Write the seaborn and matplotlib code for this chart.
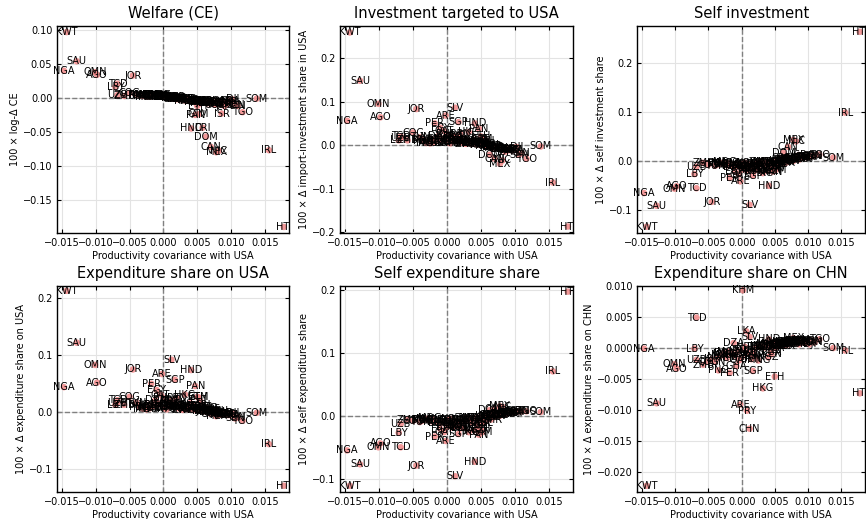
import numpy as np
import pandas as pd
import matplotlib
matplotlib.use("Agg")
import matplotlib.pyplot as plt
from matplotlib.ticker import MultipleLocator
from matplotlib.transforms import Bbox, TransformedBbox
import seaborn as sns

sns.set_style("ticks")
plt.rcParams['font.family'] = ['DejaVu Sans']
plt.rcParams.update({
    "text.color": "black",
    "axes.labelcolor": "black",
    "axes.edgecolor": "black",
    "xtick.color": "black",
    "ytick.color": "black",
})

# country codes and productivity covariance with USA (shared x axis)
countries = [
    "KWT", "NGA", "SAU", "OMN", "AGO", "JOR", "TCD", "LBY", "UZB", "ZMB",
    "COG", "PNG", "MWI", "MDG", "PER", "ARE", "KHM", "LKA", "PRY", "SLV",
    "CHN", "SGP", "GHA", "HKG", "HND", "PAN", "ETH", "CRI", "DOM", "CAN",
    "MEX", "NIC", "ISR", "TGO", "SOM", "IRL", "HTI",
    "TUN", "DZA", "MAR", "BOL", "YEM", "MOZ", "EGY", "IRN", "QAT", "BHR",
    "SDN", "NPL", "GTM", "KEN", "KGZ", "IRQ", "SYR", "LBN", "PAK", "IND",
    "BGD", "IDN", "MYS", "THA", "VNM", "PHL", "KOR", "JPN", "AUS", "NZL",
    "BRA", "ARG", "CHL", "COL", "ECU", "VEN", "URY", "JAM", "TTO", "GBR",
    "FRA", "DJI", "SEN", "GIN", "DEU", "ITA", "ESP", "ZAF", "TUR", "RUS",
    "KAZ", "UGA", "TZA", "CMR", "CIV", "GAB", "ZWE", "BEN", "MNG",
]
cov_usa = [
    -0.0143, -0.0147, -0.0128, -0.0101, -0.0098, -0.0045, -0.0068, -0.0071, -0.0068, -0.0058,
    -0.0050, -0.0035, -0.0030, -0.0025, -0.0018, -0.0002, 0.0002, 0.0007, 0.0008, 0.0012,
    0.0012, 0.0017, -0.0008, 0.0032, 0.0041, 0.0047, 0.0050, 0.0058, 0.0063, 0.0070,
    0.0078, 0.0082, 0.0086, 0.0117, 0.0138, 0.0156, 0.0178,
    -0.0040, -0.0012, -0.0035, -0.0027, -0.0022, -0.0020, -0.0010, -0.0006, -0.0004, 0.0000,
    0.0003, 0.0005, 0.0052, 0.0045, 0.0040, 0.0010, 0.0014, 0.0020, 0.0022, 0.0026,
    0.0030, 0.0034, 0.0037, 0.0043, 0.0048, 0.0054, 0.0057, 0.0060, 0.0064, 0.0066,
    0.0068, 0.0072, 0.0074, 0.0076, 0.0080, 0.0084, 0.0088, 0.0090, 0.0093, 0.0096,
    0.0099, 0.0102, 0.0106, 0.0110, 0.0061, 0.0053, 0.0058, 0.0070, 0.0035, 0.0018,
    -0.0015, 0.0044, 0.0050, 0.0065, 0.0078, 0.0087, 0.0028, 0.0015, 0.0025,
]
welfare_ce = [
    0.097, 0.040, 0.054, 0.038, 0.034, 0.033, 0.021, 0.016, 0.004, 0.003,
    0.007, 0.004, 0.003, 0.002, 0.005, 0.004, 0.002, 0.001, 0.001, 0.000,
    0.001, 0.002, 0.003, -0.004, -0.045, -0.025, -0.012, -0.044, -0.057, -0.072,
    -0.080, -0.078, -0.023, -0.021, -0.001, -0.077, -0.190,
    0.005, 0.003, 0.004, 0.003, 0.004, 0.002, 0.004, 0.002, 0.003, 0.002,
    0.001, 0.001, -0.024, -0.006, -0.004, 0.000, -0.001, -0.002, -0.001, -0.002,
    -0.002, -0.003, -0.003, -0.004, -0.005, -0.008, -0.005, -0.006, -0.006, -0.007,
    -0.007, -0.007, -0.008, -0.010, -0.009, -0.008, -0.007, -0.012, -0.009, -0.006,
    -0.004, -0.002, -0.010, -0.012, -0.004, -0.004, -0.005, -0.006, -0.002, 0.000,
    0.003, -0.004, -0.006, -0.008, -0.006, -0.005, -0.001, 0.000, -0.001,
]
inv_share_usa = [
    0.259, 0.056, 0.148, 0.095, 0.064, 0.083, 0.020, 0.011, 0.016, 0.011,
    0.029, 0.010, 0.005, 0.004, 0.050, 0.068, 0.006, 0.010, 0.020, 0.086,
    0.010, 0.053, 0.012, 0.030, 0.050, 0.038, 0.020, 0.010, -0.022, -0.031,
    -0.043, -0.035, -0.015, -0.031, -0.003, -0.086, -0.187,
    0.018, 0.022, 0.012, 0.009, 0.014, 0.006, 0.040, 0.015, 0.032, 0.025,
    0.008, 0.004, 0.015, 0.008, 0.012, 0.018, 0.020, 0.025, 0.006, 0.004,
    0.007, 0.005, 0.003, 0.002, 0.001, 0.006, -0.001, -0.002, -0.003, -0.004,
    -0.005, -0.006, -0.006, -0.008, -0.008, -0.009, -0.010, -0.012, -0.011, -0.012,
    -0.010, -0.004, -0.022, -0.018, 0.000, 0.001, 0.002, -0.004, 0.009, 0.012,
    0.010, 0.006, 0.004, -0.002, -0.007, -0.009, 0.003, 0.009, 0.010,
]
self_inv_share = [
    -0.135, -0.066, -0.092, -0.057, -0.052, -0.084, -0.056, -0.027, -0.012, -0.004,
    -0.008, -0.006, -0.004, -0.003, -0.035, -0.042, -0.006, -0.010, -0.020, -0.090,
    -0.008, -0.030, -0.010, -0.025, -0.051, -0.022, -0.015, 0.005, 0.017, 0.029,
    0.043, 0.040, 0.012, 0.013, 0.007, 0.099, 0.265,
    -0.010, -0.012, -0.007, -0.006, -0.009, -0.005, -0.022, -0.010, -0.028, -0.018,
    -0.006, -0.004, -0.018, -0.018, -0.020, -0.014, -0.016, -0.020, -0.006, -0.005,
    -0.007, -0.004, -0.003, -0.003, -0.002, -0.006, -0.001, 0.000, 0.001, 0.002,
    0.002, 0.003, 0.004, 0.004, 0.005, 0.006, 0.006, 0.008, 0.007, 0.008,
    0.008, 0.009, 0.010, 0.011, -0.002, -0.004, -0.005, -0.002, -0.010, -0.012,
    -0.008, -0.012, -0.010, -0.005, 0.000, 0.003, -0.002, -0.014, -0.018,
]
exp_share_usa = [
    0.212, 0.043, 0.121, 0.082, 0.051, 0.074, 0.020, 0.012, 0.016, 0.012,
    0.026, 0.008, 0.005, 0.004, 0.049, 0.066, 0.006, 0.010, 0.018, 0.091,
    0.010, 0.056, 0.012, 0.030, 0.073, 0.045, 0.026, 0.012, 0.002, -0.004,
    -0.008, -0.006, -0.005, -0.016, -0.002, -0.057, -0.130,
    0.016, 0.020, 0.011, 0.008, 0.012, 0.006, 0.038, 0.014, 0.030, 0.024,
    0.008, 0.004, 0.025, 0.010, 0.015, 0.017, 0.020, 0.024, 0.006, 0.005,
    0.008, 0.006, 0.004, 0.004, 0.003, 0.020, 0.002, 0.001, 0.000, 0.001,
    0.000, -0.001, -0.002, 0.002, 0.001, -0.003, -0.004, -0.004, -0.005, -0.006,
    -0.006, -0.003, -0.012, -0.010, 0.003, 0.005, 0.008, 0.004, 0.010, 0.012,
    0.009, 0.009, 0.008, 0.006, -0.001, -0.003, 0.003, 0.009, 0.010,
]
self_exp_share = [
    -0.110, -0.054, -0.076, -0.049, -0.043, -0.078, -0.049, -0.026, -0.012, -0.005,
    -0.007, -0.006, -0.004, -0.003, -0.032, -0.039, -0.006, -0.010, -0.018, -0.095,
    -0.008, -0.028, -0.010, -0.025, -0.072, -0.029, -0.020, 0.002, 0.010, 0.012,
    0.016, 0.015, 0.008, 0.008, 0.007, 0.0715, 0.198,
    -0.009, -0.011, -0.006, -0.006, -0.008, -0.005, -0.020, -0.009, -0.025, -0.017,
    -0.006, -0.004, -0.025, -0.019, -0.022, -0.013, -0.015, -0.019, -0.006, -0.005,
    -0.007, -0.004, -0.003, -0.003, -0.002, -0.010, 0.000, 0.001, 0.002, 0.002,
    0.003, 0.003, 0.004, 0.003, 0.004, 0.005, 0.005, 0.006, 0.006, 0.006,
    0.007, 0.007, 0.008, 0.008, -0.001, -0.004, -0.006, -0.001, -0.010, -0.012,
    -0.007, -0.013, -0.011, -0.005, 0.001, 0.004, -0.002, -0.014, -0.018,
]
exp_share_chn = [
    -0.0222, -0.0001, -0.0089, -0.0026, -0.0033, -0.0018, 0.0049, -0.0001, -0.0019, -0.0027,
    -0.0022, -0.0036, -0.0012, -0.0010, -0.0040, -0.0091, 0.0093, 0.0027, -0.0101, 0.0018,
    -0.0130, -0.0037, -0.0029, -0.0065, 0.0014, 0.0005, -0.0046, 0.0006, 0.0008, 0.0010,
    0.0016, 0.0012, 0.0006, 0.0014, 0.0000, -0.0004, -0.0073,
    -0.0022, 0.0008, -0.0014, -0.0008, -0.0016, -0.0006, -0.0012, -0.0005, -0.0020, -0.0015,
    -0.0003, 0.0002, 0.0004, -0.0010, -0.0015, -0.0008, -0.0011, -0.0013, 0.0001, 0.0003,
    0.0002, 0.0004, 0.0006, 0.0005, 0.0009, 0.0003, 0.0007, 0.0006, 0.0008, 0.0007,
    0.0009, 0.0008, 0.0010, 0.0011, 0.0012, 0.0010, 0.0011, 0.0013, 0.0009, 0.0008,
    0.0010, 0.0006, 0.0012, 0.0009, 0.0004, 0.0003, 0.0005, 0.0006, 0.0001, -0.0006,
    -0.0009, -0.0007, 0.0000, 0.0004, 0.0009, 0.0008, 0.0002, -0.0018, -0.0020,
]

df = pd.DataFrame({
    "country": countries,
    "cov_usa": cov_usa,
    "welfare_ce": welfare_ce,
    "inv_share_usa": inv_share_usa,
    "self_inv_share": self_inv_share,
    "exp_share_usa": exp_share_usa,
    "self_exp_share": self_exp_share,
    "exp_share_chn": exp_share_chn,
})

panels = [
    ("welfare_ce", "Welfare (CE)", "100 × log-Δ CE", (-0.199, 0.106), None),
    ("inv_share_usa", "Investment targeted to USA", "100 × Δ import-investment share in USA", (-0.202, 0.274), 0.1),
    ("self_inv_share", "Self investment", "100 × Δ self investment share", (-0.148, 0.277), 0.1),
    ("exp_share_usa", "Expenditure share on USA", "100 × Δ expenditure share on USA", (-0.141, 0.2205), 0.1),
    ("self_exp_share", "Self expenditure share", "100 × Δ self expenditure share", (-0.120, 0.207), 0.1),
    ("exp_share_chn", "Expenditure share on CHN", "100 × Δ expenditure share on CHN", (-0.0232, 0.0100), 0.005),
]

# axes rectangles [left, bottom, width, height] in figure fractions
rects = [
    [0.066, 0.551, 0.268, 0.399],
    [0.393, 0.551, 0.269, 0.399],
    [0.736, 0.551, 0.263, 0.399],
    [0.066, 0.052, 0.268, 0.397],
    [0.393, 0.052, 0.269, 0.397],
    [0.736, 0.052, 0.263, 0.397],
]

fig = plt.figure(figsize=(8.66, 5.19), dpi=100)

for (col, title, ylabel, ylim, ystep), rect in zip(panels, rects):
    ax = fig.add_axes(rect)
    ax.grid(True, color="#e3e3e3", linewidth=0.8, zorder=0)
    ax.axhline(0, color="gray", linestyle="--", linewidth=1, zorder=1)
    ax.axvline(0, color="gray", linestyle="--", linewidth=1, zorder=1)
    sns.scatterplot(data=df, x="cov_usa", y=col, ax=ax, color="#f08080",
                    alpha=0.8, s=22, edgecolor="none", zorder=2)
    # labels are clipped only at the right edge of the axes
    clip = TransformedBbox(Bbox([[-0.2, -0.2], [1.0, 1.2]]), ax.transAxes)
    for _, row in df.iterrows():
        t = ax.text(row["cov_usa"], row[col], row["country"], fontsize=7,
                    ha="center", va="center", zorder=3)
        t.set_clip_box(clip)
        t.set_clip_on(True)
    ax.set_xlim(-0.0157, 0.0186)
    ax.set_ylim(*ylim)
    ax.xaxis.set_major_locator(MultipleLocator(0.005))
    if ystep is not None:
        ax.yaxis.set_major_locator(MultipleLocator(ystep))
    ax.set_title(title, fontsize=10.5)
    ax.set_xlabel("Productivity covariance with USA", fontsize=7, labelpad=2)
    ax.set_ylabel(ylabel, fontsize=7, labelpad=2)
    ax.tick_params(direction="in", top=True, right=True, labelsize=7, length=3)
    for sp in ax.spines.values():
        sp.set_linewidth(1.0)

fig.savefig("out.png", dpi=100)
